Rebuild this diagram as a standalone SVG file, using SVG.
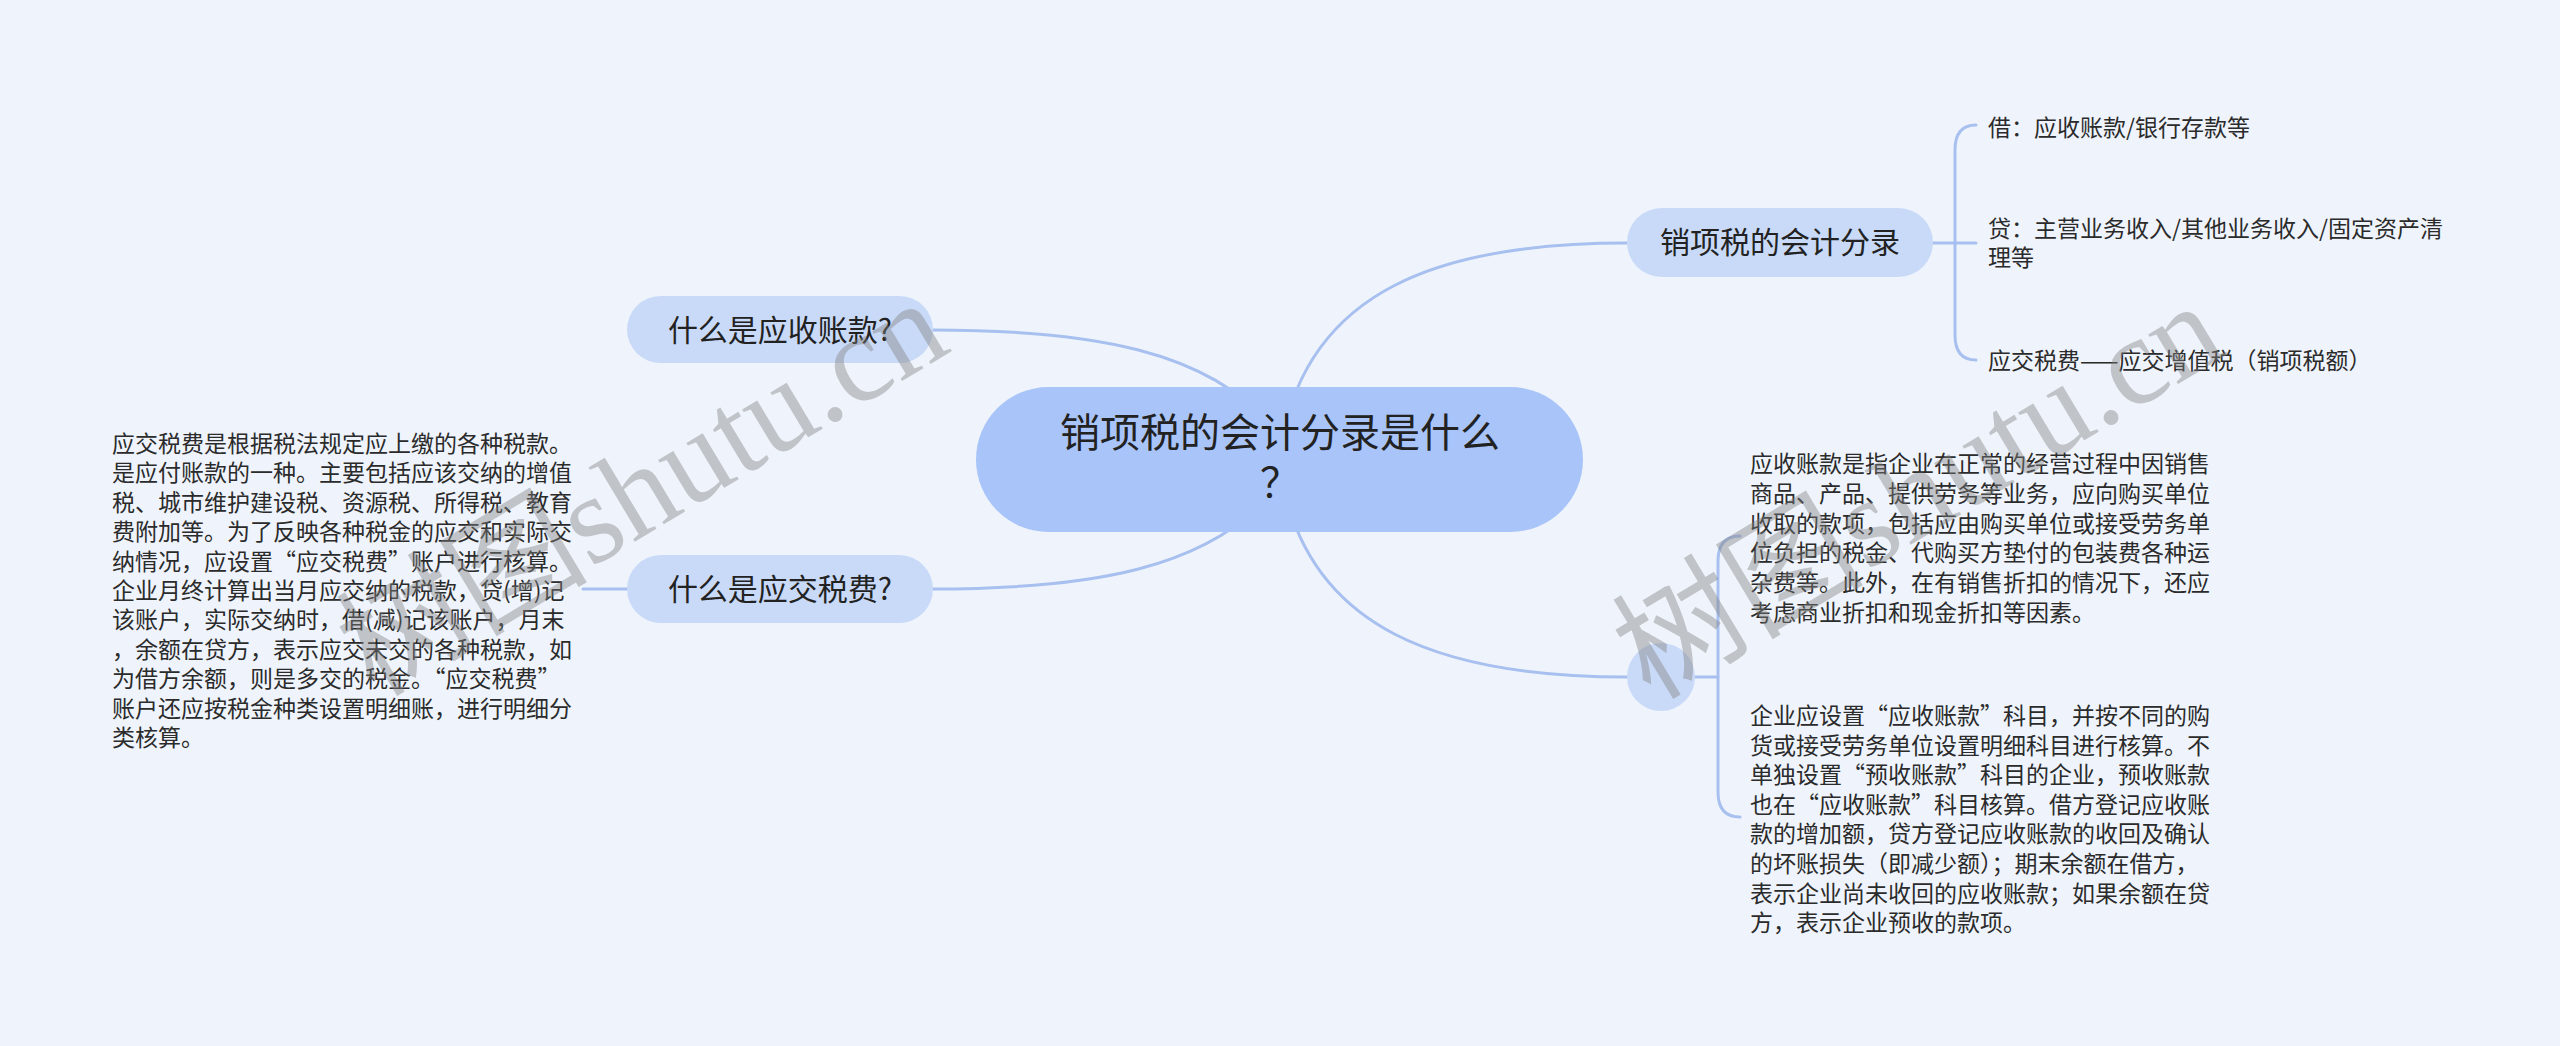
<svg xmlns="http://www.w3.org/2000/svg" width="2560" height="1046" viewBox="0 0 2560 1046">
<style>
.bg{fill:#eff4fc}
.link{fill:none;stroke:#a8c0ef;stroke-width:3;stroke-linecap:round}
.root{fill:#a8c4f8}
.sub{fill:#c9daf8}
.t{font-family:"Noto Sans CJK SC","Noto Sans",sans-serif;fill:#222}
.big{font-size:40px}
.mid{font-size:30px}
.small{font-size:23px;fill:#2b2b2b}
.wm{font-family:"Liberation Serif","Noto Sans CJK SC",serif;font-size:126px;fill:#808080;opacity:0.42}
</style>
<rect class="bg" x="0" y="0" width="2560" height="1046"/>
<g id="connectors">
<path class="link" d="M933,330 C1090,330 1210,350 1275,430"/>
<path class="link" d="M933,589 C1090,589 1210,569 1275,489"/>
<path class="link" d="M1282,440 C1310,290 1440,243 1627,243"/>
<path class="link" d="M1282,479 C1310,629 1440,677 1627,677"/>
<path class="link" d="M583,589 L627,589"/>
<path class="link" d="M1933,243 L1976,243"/>
<path class="link" d="M1976,125 Q1955,125 1955,150 L1955,335 Q1955,360 1976,360"/>
<path class="link" d="M1695,677 L1718,677"/>
<path class="link" d="M1740,536 Q1718,536 1718,561 L1718,792 Q1718,817 1740,817"/>
</g>
<g id="n-root">
<rect class="root" x="976" y="387" width="607" height="145" rx="72.5"/>
<text class="t big" text-anchor="middle"><tspan x="1280" y="447">销项税的会计分录是什么</tspan><tspan x="1280" y="497">？</tspan></text>
</g>
<g id="n-ar">
<rect class="sub" x="627" y="296" width="306" height="67" rx="33.5"/>
<text class="t mid" x="780" y="341" text-anchor="middle">什么是应收账款?</text>
</g>
<g id="n-tax">
<rect class="sub" x="627" y="555" width="306" height="68" rx="34"/>
<text class="t mid" x="780" y="600" text-anchor="middle">什么是应交税费?</text>
</g>
<g id="n-entry">
<rect class="sub" x="1627" y="208" width="306" height="69" rx="34.5"/>
<text class="t mid" x="1780" y="253" text-anchor="middle">销项税的会计分录</text>
</g>
<g id="n-circle">
<circle class="sub" cx="1661" cy="677" r="34"/>
</g>
<g id="l-debit">
<text class="t small" x="1988" y="136">借：应收账款/银行存款等</text>
</g>
<g id="l-credit">
<text class="t small"><tspan x="1988" y="237">贷：主营业务收入/其他业务收入/固定资产清</tspan><tspan x="1988" y="266">理等</tspan></text>
</g>
<g id="l-vat">
<text class="t small" x="1988" y="369">应交税费——应交增值税（销项税额）</text>
</g>
<g id="t-tax-desc">
<text class="t small"><tspan x="112" y="452">应交税费是根据税法规定应上缴的各种税款。</tspan><tspan x="112" dy="29.4">是应付账款的一种。主要包括应该交纳的增值</tspan><tspan x="112" dy="29.4">税、城市维护建设税、资源税、所得税、教育</tspan><tspan x="112" dy="29.4">费附加等。为了反映各种税金的应交和实际交</tspan><tspan x="112" dy="29.4">纳情况，应设置“应交税费”账户进行核算。</tspan><tspan x="112" dy="29.4">企业月终计算出当月应交纳的税款，贷(增)记</tspan><tspan x="112" dy="29.4">该账户，实际交纳时，借(减)记该账户，月末</tspan><tspan x="112" dy="29.4">，余额在贷方，表示应交未交的各种税款，如</tspan><tspan x="112" dy="29.4">为借方余额，则是多交的税金。“应交税费”</tspan><tspan x="112" dy="29.4">账户还应按税金种类设置明细账，进行明细分</tspan><tspan x="112" dy="29.4">类核算。</tspan></text>
</g>
<g id="t-ar-desc1">
<text class="t small"><tspan x="1750" y="472">应收账款是指企业在正常的经营过程中因销售</tspan><tspan x="1750" dy="29.8">商品、产品、提供劳务等业务，应向购买单位</tspan><tspan x="1750" dy="29.8">收取的款项，包括应由购买单位或接受劳务单</tspan><tspan x="1750" dy="29.8">位负担的税金、代购买方垫付的包装费各种运</tspan><tspan x="1750" dy="29.8">杂费等。此外，在有销售折扣的情况下，还应</tspan><tspan x="1750" dy="29.8">考虑商业折扣和现金折扣等因素。</tspan></text>
</g>
<g id="t-ar-desc2">
<text class="t small"><tspan x="1750" y="724">企业应设置“应收账款”科目，并按不同的购</tspan><tspan x="1750" dy="29.6">货或接受劳务单位设置明细科目进行核算。不</tspan><tspan x="1750" dy="29.6">单独设置“预收账款”科目的企业，预收账款</tspan><tspan x="1750" dy="29.6">也在“应收账款”科目核算。借方登记应收账</tspan><tspan x="1750" dy="29.6">款的增加额，贷方登记应收账款的收回及确认</tspan><tspan x="1750" dy="29.6">的坏账损失（即减少额）；期末余额在借方，</tspan><tspan x="1750" dy="29.6">表示企业尚未收回的应收账款；如果余额在贷</tspan><tspan x="1750" dy="29.6">方，表示企业预收的款项。</tspan></text>
</g>
<g id="watermark">
<text class="wm" x="664" y="524" text-anchor="middle" transform="rotate(-31 664 524)">树图shutu.cn</text>
<text class="wm" x="1940" y="527" text-anchor="middle" transform="rotate(-31 1940 527)">树图shutu.cn</text>
</g>
</svg>
